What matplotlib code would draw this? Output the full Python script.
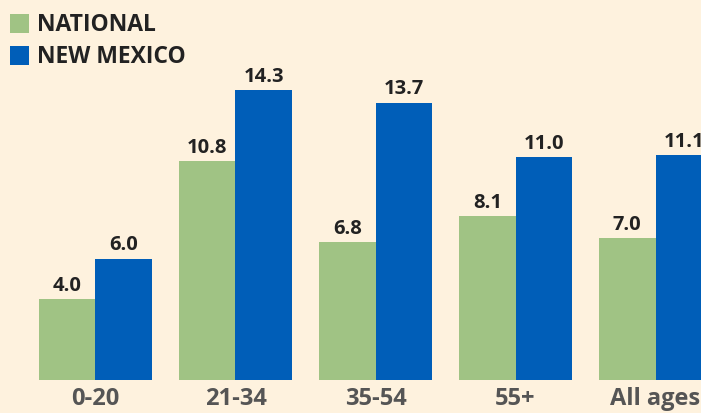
import matplotlib
matplotlib.use("Agg")
import matplotlib.pyplot as plt
import numpy as np

categories = ["0-20", "21-34", "35-54", "55+", "All ages"]
national = [4.0, 10.8, 6.8, 8.1, 7.0]
new_mexico = [6.0, 14.3, 13.7, 11.0, 11.1]
series_names = ["NATIONAL", "NEW MEXICO"]

BG = "#FEF2DE"
GREEN = "#A0C384"
BLUE = "#005EB8"

plt.rcParams['font.family'] = ['Open Sans', 'DejaVu Sans']

fig = plt.figure(figsize=(7.01, 4.14), dpi=100, facecolor=BG)
ax = fig.add_axes([0, 33/414, 1, 381/414])
ax.set_facecolor(BG)

x = np.arange(len(categories))
w = 56.5/140
ax.bar(x - w/2, national, width=w, color=GREEN, linewidth=0)
ax.bar(x + w/2, new_mexico, width=w, color=BLUE, linewidth=0)

for xi, v in zip(x, national):
    ax.text(xi - w/2, v + 0.22, f"{v:.1f}", ha="center", va="bottom",
            fontsize=14.5, fontweight="bold", color="#222222")
for xi, v in zip(x, new_mexico):
    ax.text(xi + w/2, v + 0.22, f"{v:.1f}", ha="center", va="bottom",
            fontsize=14.5, fontweight="bold", color="#222222")

ax.set_xlim(-95.5/140, (701-95.5)/140)
ax.set_ylim(0, 381/20.25)
ax.set_xticks(x)
ax.set_xticklabels(categories, fontsize=17, fontweight="bold", color="#555555")
ax.tick_params(axis="x", length=0, pad=4.5)
ax.set_yticks([])
for s in ax.spines.values():
    s.set_visible(False)

# legend
for i, (name, col) in enumerate(zip(series_names, [GREEN, BLUE])):
    y0 = 414 - 15 - i*32
    fig.patches.append(plt.Rectangle((10/701, (y0-19)/414), 19/701, 19/414,
                                     transform=fig.transFigure, color=col, lw=0))
    fig.text(37/701, (y0-10)/414, name, ha="left", va="center",
             fontsize=16.5, fontweight="bold", color="#222222")

fig.savefig("out.png", dpi=100, facecolor=BG)
